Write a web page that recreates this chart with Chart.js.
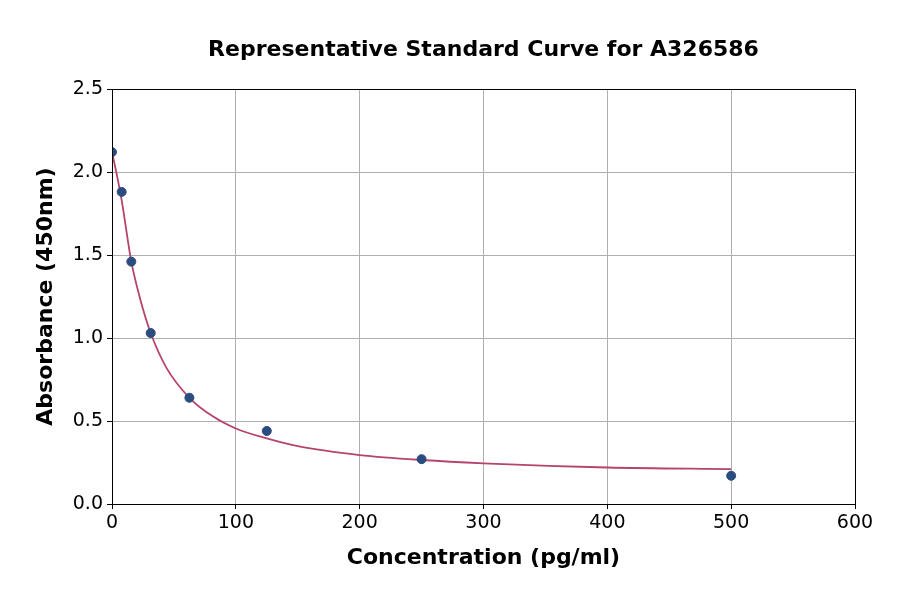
<!DOCTYPE html>
<html>
<head>
<meta charset="utf-8">
<script src="https://cdn.jsdelivr.net/npm/chart.js@4/dist/chart.umd.min.js"></script>
<style>
html,body{margin:0;padding:0;background:#fff;}
#wrap{width:900px;height:594px;}
</style>
</head>
<body>
<div id="wrap"><canvas id="c" width="900" height="594"></canvas></div>
<script>
const titleText = "Representative Standard Curve for A326586";
const xLabel = "Concentration (pg/ml)";
const yLabel = "Absorbance (450nm)";

// measured standards
const stdConc = [0, 7.8, 15.6, 31.25, 62.5, 125, 250, 500];
const stdAbs = [2.12, 1.88, 1.46, 1.03, 0.64, 0.44, 0.27, 0.17];

// fitted curve
const curveConc = [0, 4, 7.8, 15.6, 22.6, 31.25, 44, 62.5, 82, 100, 125, 152, 200, 250, 300, 400, 500];
const curveAbs = [2.12, 1.98, 1.83, 1.46, 1.24, 1.03, 0.82, 0.64, 0.525, 0.455, 0.395, 0.345, 0.295, 0.265, 0.245, 0.22, 0.21];

const xTicks = [0, 100, 200, 300, 400, 500, 600];
const yTicks = [0, 0.5, 1.0, 1.5, 2.0, 2.5];

const toXY = (xs, ys) => xs.map((x, i) => ({x: x, y: ys[i]}));

const frame = {
  id: 'frame',
  afterDatasetsDraw(chart) {
    const a = chart.chartArea, ctx = chart.ctx;
    ctx.save();
    ctx.strokeStyle = '#000';
    ctx.lineWidth = 1;
    ctx.strokeRect(Math.round(a.left) + 0.5, Math.round(a.top) + 0.5, Math.round(a.right - a.left), Math.round(a.bottom - a.top));
    ctx.restore();
  }
};

new Chart(document.getElementById('c'), {
  type: 'scatter',
  data: {
    datasets: [
      {
        type: 'line',
        data: toXY(curveConc, curveAbs),
        borderColor: '#b5446e',
        borderWidth: 1.8,
        pointRadius: 0,
        fill: false,
        cubicInterpolationMode: 'monotone',
        order: 2
      },
      {
        data: toXY(stdConc, stdAbs),
        backgroundColor: '#2b4c7e',
        borderColor: '#2b4c7e',
        pointRadius: 4.5,
        pointHoverRadius: 4.5,
        order: 1
      }
    ]
  },
  options: {
    responsive: false,
    animation: false,
    devicePixelRatio: 1,
    layout: { padding: { left: 0, right: 45, top: 0, bottom: 0 } },
    plugins: {
      legend: { display: false },
      tooltip: { enabled: false },
      title: {
        display: true,
        text: titleText,
        fullSize: false,
        color: '#000',
        font: { family: 'DejaVu Sans', size: 22, weight: 'bold' },
        padding: { top: 37, bottom: 25.6 }
      }
    },
    scales: {
      x: {
        type: 'linear',
        min: 0, max: 600,
        afterBuildTicks(s) { s.ticks = xTicks.map(v => ({value: v})); },
        afterFit(s) { s.height = 90; },
        ticks: {
          color: '#000',
          font: { family: 'DejaVu Sans', size: 19 },
          padding: 3,
          maxRotation: 0,
          callback: v => String(v)
        },
        grid: { color: '#b0b0b0', lineWidth: 1, tickColor: '#000', tickLength: 5, drawTicks: true },
        border: { display: true, color: '#000', width: 1 },
        title: {
          display: true, text: xLabel, color: '#000',
          font: { family: 'DejaVu Sans', size: 22, weight: 'bold' },
          padding: { top: 0, bottom: 23 }
        }
      },
      y: {
        type: 'linear',
        min: 0, max: 2.5,
        afterBuildTicks(s) { s.ticks = yTicks.map(v => ({value: v})); },
        afterFit(s) { s.width = 112; },
        ticks: {
          color: '#000',
          font: { family: 'DejaVu Sans', size: 19 },
          padding: 4,
          callback: v => Number(v).toFixed(1)
        },
        grid: { color: '#b0b0b0', lineWidth: 1, tickColor: '#000', tickLength: 5, drawTicks: true },
        border: { display: true, color: '#000', width: 1 },
        title: {
          display: true, text: yLabel, color: '#000',
          font: { family: 'DejaVu Sans', size: 22, weight: 'bold' },
          padding: { top: 33, bottom: 0 }
        }
      }
    }
  },
  plugins: [frame]
});
</script>
</body>
</html>
